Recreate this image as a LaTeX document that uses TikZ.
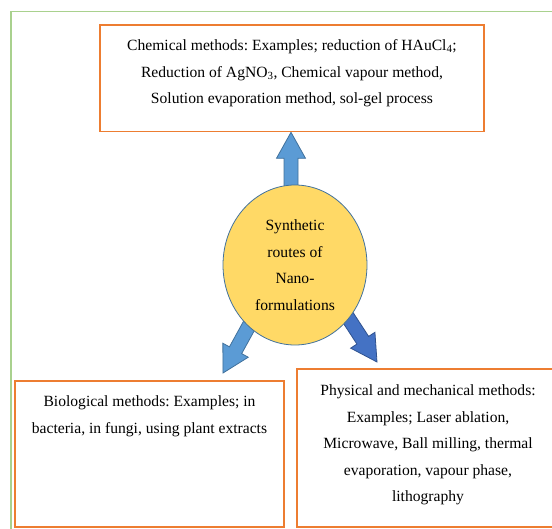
\documentclass[tikz,border=0pt]{standalone}
\usepackage{fontspec}
\setmainfont{Liberation Serif}
\usepackage{tikz}
\usetikzlibrary{shapes.geometric,calc,positioning,backgrounds}
\definecolor{boxorange}{RGB}{237,125,49}
\definecolor{framegreen}{RGB}{169,209,142}
\definecolor{ellfill}{RGB}{255,217,102}
\definecolor{ellline}{RGB}{65,113,156}
\definecolor{arrblue}{RGB}{91,155,213}
\definecolor{arrblueline}{RGB}{65,113,156}
\definecolor{arrdark}{RGB}{68,114,196}
\definecolor{arrdarkline}{RGB}{47,82,143}
\frenchspacing

\begin{document}
\begin{tikzpicture}[x=1pt,y=-1pt,font=\fontsize{15.6}{26.5}\selectfont,line cap=round,
  methodbox/.style={draw=boxorange,line width=1.6pt,inner sep=0pt},
  boxtext/.style={align=center,inner sep=0pt},
  fatarrow/.style={line width=0.8pt,line join=miter,line cap=butt,to path={
    ($(\tikztostart)!7pt!90:(\tikztotarget)$)
    -- ($(\tikztotarget)!26pt!(\tikztostart)!7pt!-90:(\tikztostart)$)
    -- ($(\tikztotarget)!26pt!(\tikztostart)!14.5pt!-90:(\tikztostart)$)
    -- (\tikztotarget)
    -- ($(\tikztotarget)!26pt!(\tikztostart)!14.5pt!90:(\tikztostart)$)
    -- ($(\tikztotarget)!26pt!(\tikztostart)!7pt!90:(\tikztostart)$)
    -- ($(\tikztostart)!7pt!-90:(\tikztotarget)$) -- cycle}}]
\useasboundingbox (0,0) rectangle (552,529);
\draw[framegreen,line width=1.5pt,line cap=butt] (11,529) -- (11,11.5) -- (552,11.5);

\node[methodbox,minimum width=384pt,minimum height=106.5pt] (chem) at (292,78.25) {};
\node[boxtext,below=15.3pt of chem.north] (chemtxt) {Chemical methods: Examples; reduction of HAuCl\textsubscript{4};\\
  Reduction of AgNO\textsubscript{3}, Chemical vapour method,\\
  Solution evaporation method, sol-gel process};

\node[ellipse,draw=ellline,fill=ellfill,line width=0.8pt,minimum width=144pt,minimum height=160pt,
  inner sep=0pt,align=center] (syn) at (295,265) {Synthetic\\routes of\\Nano-\\formulations};

\node[methodbox,minimum width=269pt,minimum height=146pt] (bio) at (149.5,454) {};
\node[boxtext,below=15.6pt of bio.north] (biotxt) {Biological methods: Examples; in\\
  bacteria, in fungi, using plant extracts};

\node[methodbox,minimum width=259pt,minimum height=158pt] (phys) at (426.5,448) {};
\node[boxtext,below=16.5pt of phys.north,xshift=1.5pt] (phystxt) {Physical and mechanical methods:\\
  Examples; Laser ablation,\\
  Microwave, Ball milling, thermal\\
  evaporation, vapour phase,\\
  lithography};

\coordinate (tipT) at ($(chem.south)+(-1,0)$);
\coordinate (baseT) at (tipT |- syn.center);
\coordinate (tipL) at (223,373);
\coordinate (baseL) at ($(tipL)!1.5!(syn.-127)$);
\coordinate (tipR) at (377,362);
\coordinate (baseR) at ($(tipR)!1.5!(syn.-45)$);

\begin{scope}[on background layer]
\draw[fatarrow,fill=arrblue,draw=arrblueline] (baseT) to (tipT);
\draw[fatarrow,fill=arrblue,draw=arrblueline] (baseL) to (tipL);
\draw[fatarrow,fill=arrdark,draw=arrdarkline] (baseR) to (tipR);
\end{scope}
\end{tikzpicture}
\end{document}
